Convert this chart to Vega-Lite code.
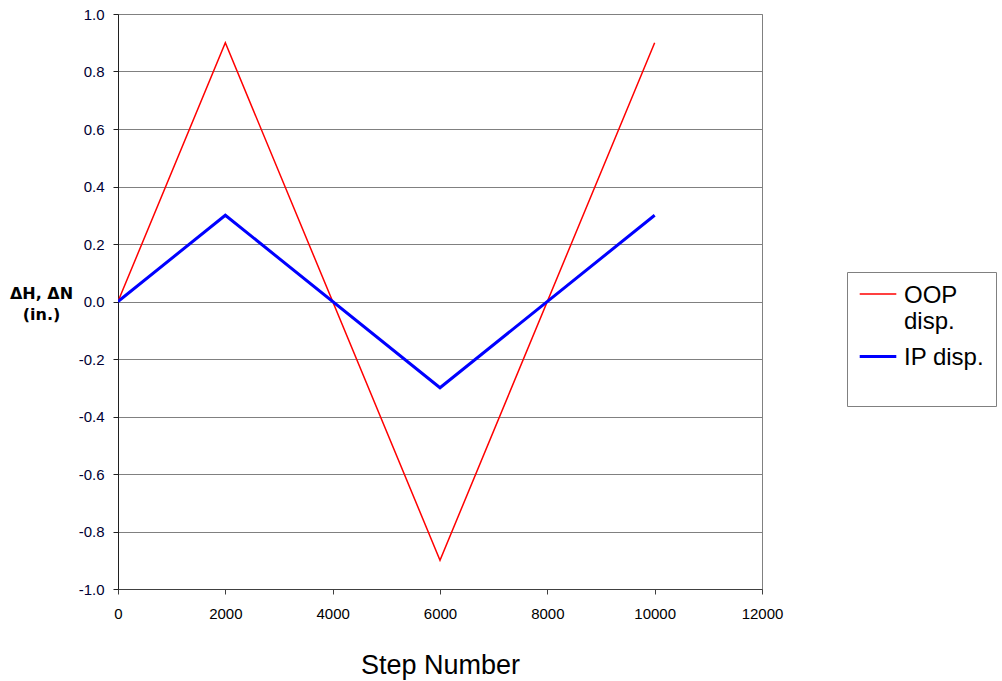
{
  "$schema": "https://vega.github.io/schema/vega-lite/v6.json",
  "autosize": "none",
  "width": 644,
  "height": 575,
  "padding": {"left": 118, "top": 14, "right": 240, "bottom": 92},
  "background": "white",
  "config": {
    "font": "Liberation Sans",
    "view": {"stroke": "#808080", "strokeWidth": 1}
  },
  "data": {
    "values": [
      {"step": 0, "disp": 0.0, "series": "OOP disp."},
      {"step": 2000, "disp": 0.9, "series": "OOP disp."},
      {"step": 6000, "disp": -0.9, "series": "OOP disp."},
      {"step": 10000, "disp": 0.9, "series": "OOP disp."},
      {"step": 0, "disp": 0.0, "series": "IP disp."},
      {"step": 2000, "disp": 0.3, "series": "IP disp."},
      {"step": 6000, "disp": -0.3, "series": "IP disp."},
      {"step": 10000, "disp": 0.3, "series": "IP disp."}
    ]
  },
  "mark": {"type": "line", "clip": true},
  "encoding": {
    "x": {
      "field": "step",
      "type": "quantitative",
      "scale": {"domain": [0, 12000], "nice": false},
      "axis": {
        "values": [0, 2000, 4000, 6000, 8000, 10000, 12000],
        "format": "d",
        "grid": false,
        "domainColor": "#404040",
        "tickColor": "#404040",
        "tickSize": 5,
        "labelFontSize": 15,
        "labelColor": "#000000",
        "labelPadding": 12,
        "labelFlush": false,
        "title": "Step Number",
        "titleFontSize": 27,
        "titleFontWeight": "normal",
        "titleColor": "#000000",
        "titleY": 84,
        "titleBaseline": "alphabetic"
      }
    },
    "y": {
      "field": "disp",
      "type": "quantitative",
      "scale": {"domain": [-1, 1], "nice": false, "zero": false},
      "axis": {
        "values": [-1, -0.8, -0.6, -0.4, -0.2, 0, 0.2, 0.4, 0.6, 0.8, 1],
        "labelExpr": "datum.value < -0.001 ? '-' + format(-datum.value, '.1f') : format(abs(datum.value), '.1f')",
        "grid": true,
        "gridColor": "#808080",
        "gridWidth": 1,
        "gridOpacity": 1,
        "domainColor": "#202020",
        "tickColor": "#202020",
        "tickSize": 5,
        "labelFontSize": 15,
        "labelColor": "#000033",
        "labelPadding": 9,
        "labelFlush": false,
        "title": ["ΔH, ΔN", "(in.)"],
        "titleFont": "DejaVu Sans",
        "titleAngle": 0,
        "titleFontSize": 16,
        "titleFontWeight": "bold",
        "titleColor": "#000000",
        "titleAlign": "center",
        "titleBaseline": "alphabetic",
        "titleLineHeight": 21,
        "titleX": -77,
        "titleY": 284
      }
    },
    "color": {
      "field": "series",
      "type": "nominal",
      "scale": {"domain": ["OOP disp.", "IP disp."], "range": ["#ff0000", "#0000ff"]},
      "legend": {
        "title": " ",
        "titleOrient": "bottom",
        "titleFontSize": 14,
        "titlePadding": 11,
        "orient": "none",
        "legendX": 729,
        "legendY": 258,
        "padding": 11,
        "strokeColor": "#808080",
        "fillColor": "white",
        "symbolType": "M-1,-0.46L1,-0.46",
        "symbolSize": 1340,
        "symbolStrokeWidth": 2.5,
        "labelFontSize": 24,
        "labelColor": "#000000",
        "labelExpr": "datum.label == 'OOP disp.' ? ['OOP', 'disp.'] : datum.label",
        "labelBaseline": "alphabetic",
        "rowPadding": 11,
        "labelOffset": 6
      }
    },
    "strokeWidth": {
      "field": "series",
      "type": "nominal",
      "scale": {"domain": ["OOP disp.", "IP disp."], "range": [1.5, 3]},
      "legend": null
    }
  }
}
